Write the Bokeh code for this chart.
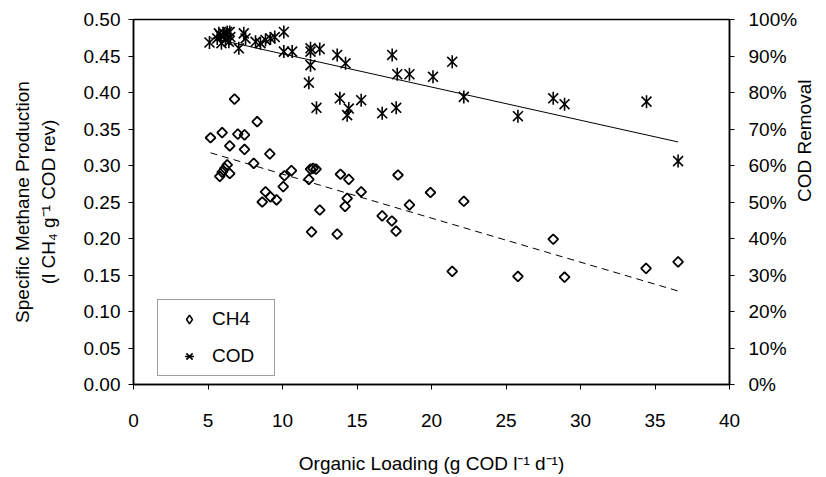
import numpy as np
from bokeh.plotting import figure
from bokeh.models import (Range1d, LinearAxis, FixedTicker, NumeralTickFormatter,
                          Legend, LegendItem)
from bokeh.embed import file_html
from bokeh.resources import INLINE

# ---- data ----
ch4_x = [5.17, 5.79, 5.95, 5.95, 6.13, 6.29, 6.46, 6.46, 6.78, 7.00, 7.45, 7.45,
         8.07, 8.30, 8.64, 8.86, 9.15, 9.19, 9.60, 10.05, 10.13, 10.60, 11.77,
         11.88, 11.95, 12.05, 12.25, 12.50, 13.67, 13.89, 14.20, 14.34, 14.45,
         15.28, 16.69, 17.34, 17.62, 17.75, 18.52, 19.93, 21.39, 22.17, 25.80,
         28.17, 28.93, 34.40, 36.55]
ch4_y = [0.338, 0.285, 0.291, 0.345, 0.296, 0.301, 0.289, 0.327, 0.391, 0.343,
         0.342, 0.322, 0.303, 0.360, 0.250, 0.264, 0.316, 0.257, 0.253, 0.271,
         0.286, 0.293, 0.281, 0.295, 0.209, 0.296, 0.295, 0.239, 0.206, 0.288,
         0.244, 0.255, 0.281, 0.264, 0.231, 0.224, 0.210, 0.287, 0.246, 0.263,
         0.155, 0.251, 0.148, 0.199, 0.147, 0.159, 0.168]

cod_x = [5.10, 5.62, 5.73, 5.84, 5.90, 6.06, 6.17, 6.29, 6.40, 6.46, 6.50, 7.07,
         7.40, 7.52, 8.19, 8.52, 8.86, 9.19, 9.48, 10.09, 10.09, 10.65, 11.77,
         11.88, 11.88, 11.88, 12.28, 12.50, 13.67, 13.85, 14.23, 14.34, 14.45,
         15.28, 16.69, 17.36, 17.63, 17.70, 18.52, 20.10, 21.39, 22.17, 25.80,
         28.17, 28.93, 34.43, 36.55]
cod_y = [0.937, 0.948, 0.962, 0.956, 0.935, 0.962, 0.944, 0.966, 0.939, 0.966,
         0.952, 0.921, 0.962, 0.948, 0.939, 0.935, 0.944, 0.948, 0.952, 0.966,
         0.912, 0.912, 0.827, 0.921, 0.912, 0.875, 0.758, 0.919, 0.903, 0.784,
         0.880, 0.738, 0.756, 0.779, 0.743, 0.903, 0.758, 0.850, 0.850, 0.843,
         0.884, 0.788, 0.735, 0.784, 0.768, 0.775, 0.612]

x_ticks = [0, 5, 10, 15, 20, 25, 30, 35, 40]
ch4_ticks = [0.0, 0.05, 0.10, 0.15, 0.20, 0.25, 0.30, 0.35, 0.40, 0.45, 0.50]
cod_ticks = [0.0, 0.1, 0.2, 0.3, 0.4, 0.5, 0.6, 0.7, 0.8, 0.9, 1.0]
cod_title_tick = [0.5]

FONT = "Liberation Sans"
TICK_FS = "19px"
LABEL_FS = "19px"

p = figure(frame_width=596, frame_height=365, output_backend="svg",
           toolbar_location=None,
           x_range=Range1d(0, 40), y_range=Range1d(0, 0.5),
           min_border_left=133, min_border_right=20, min_border_top=19,
           min_border_bottom=80)
p.extra_y_ranges = {"cod": Range1d(0, 1)}
p.grid.visible = False
p.outline_line_color = "black"
p.outline_line_width = 1.5
p.background_fill_color = "white"
p.border_fill_color = "white"

right = LinearAxis(y_range_name="cod")
p.add_layout(right, "right")


def style_axis(ax):
    ax.axis_line_color = "black"
    ax.axis_line_width = 1.5
    ax.major_tick_line_color = "black"
    ax.major_tick_line_width = 1
    ax.major_tick_out = 5
    ax.major_tick_in = 0
    ax.minor_tick_line_color = None
    ax.major_label_text_font = FONT
    ax.major_label_text_font_size = TICK_FS
    ax.major_label_text_color = "black"
    ax.axis_label_text_font = FONT
    ax.axis_label_text_font_size = LABEL_FS
    ax.axis_label_text_font_style = "normal"
    ax.axis_label_text_color = "black"


xa = p.xaxis[0]
ya = p.yaxis[0]
for ax in (xa, ya, right):
    style_axis(ax)

xa.ticker = FixedTicker(ticks=x_ticks)
ya.ticker = FixedTicker(ticks=ch4_ticks)
right.ticker = FixedTicker(ticks=cod_ticks)
ya.formatter = NumeralTickFormatter(format="0.00")
right.formatter = NumeralTickFormatter(format="0%")

xa.axis_label = "Organic Loading (g COD l\u207b\u00b9 d\u207b\u00b9)"
ya.axis_label = "Specific Methane Production\n(l CH\u2084 g\u207b\u00b9 COD rev)"
xa.major_label_standoff = 24
ya.major_label_standoff = 8
right.major_label_standoff = 14
xa.axis_label_standoff = 23
ya.axis_label_standoff = 22

# right-hand title: a bare axis whose single label reads bottom-to-top
title_axis = LinearAxis(y_range_name="cod")
title_axis.ticker = FixedTicker(ticks=cod_title_tick)
title_axis.major_label_overrides = {0.5: "COD Removal"}
title_axis.major_label_orientation = np.pi / 2
title_axis.axis_line_color = None
title_axis.major_tick_line_color = None
title_axis.minor_tick_line_color = None
title_axis.major_tick_out = 0
title_axis.major_label_standoff = 4
title_axis.major_label_text_font = FONT
title_axis.major_label_text_font_size = LABEL_FS
title_axis.major_label_text_color = "black"
p.add_layout(title_axis, "right")

# trend lines (least squares over the data)
ch4_fit = np.polyfit(ch4_x, ch4_y, 1)
cod_fit = np.polyfit(cod_x, cod_y, 1)
ch4_lx = [min(ch4_x), max(ch4_x)]
cod_lx = [min(cod_x), max(cod_x)]
p.line(ch4_lx, list(np.polyval(ch4_fit, ch4_lx)), line_color="black",
       line_width=1, line_dash="7 5")
p.line(cod_lx, list(np.polyval(cod_fit, cod_lx)), line_color="black",
       line_width=1, y_range_name="cod")

r_ch4 = p.scatter(ch4_x, ch4_y, marker="square", size=7, angle=np.pi / 4,
                  fill_color=None, line_color="black", line_width=1.8)
r_cx = p.scatter(cod_x, cod_y, marker="x", size=14, line_color="black",
                 line_width=1.6, y_range_name="cod")
r_cd = p.scatter(cod_x, cod_y, marker="dash", size=13, angle=np.pi / 2,
                 line_color="black", line_width=1.6, y_range_name="cod")

# legend-only glyph for the diamonds (legend glyphs ignore marker angle);
# size 0 so that nothing is drawn in the plot area itself
r_leg = p.scatter(ch4_x, ch4_y, marker="diamond", size=0, fill_color=None,
                  line_color="black", line_width=1.6)

legend = Legend(items=[LegendItem(label="CH4", renderers=[r_leg]),
                       LegendItem(label="COD", renderers=[r_cx, r_cd])],
                location=(24, 8), padding=8, spacing=15, margin=0,
                glyph_width=46, glyph_height=22, label_height=22,
                label_width=54, label_standoff=0, label_text_font=FONT,
                label_text_font_size="19px", label_text_color="black",
                border_line_color="#404040", border_line_width=1,
                background_fill_color="white", background_fill_alpha=1)
p.add_layout(legend)

open("out.html", "w").write(file_html(p, INLINE))
